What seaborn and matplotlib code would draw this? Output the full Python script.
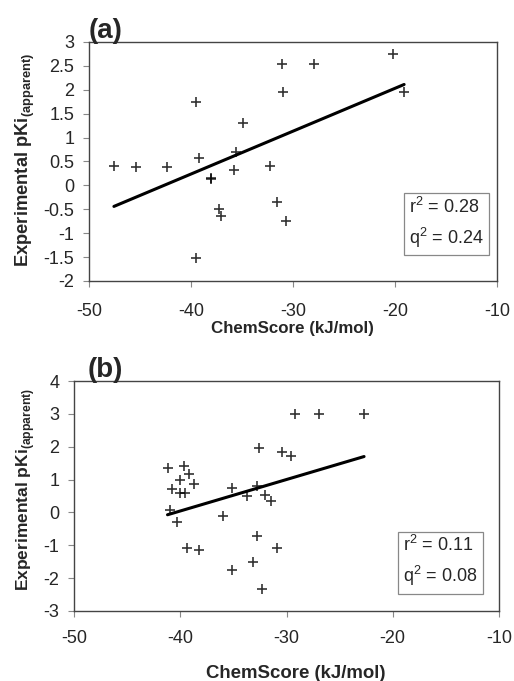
import numpy as np
import pandas as pd
import matplotlib
matplotlib.use("Agg")
import matplotlib.pyplot as plt
import seaborn as sns

sns.set_style("white")
plt.rcParams['font.family'] = ['Liberation Sans', 'DejaVu Sans']
plt.rcParams['mathtext.fontset'] = 'custom'
plt.rcParams['mathtext.rm'] = 'Liberation Sans'
plt.rcParams['mathtext.bf'] = 'Liberation Sans:bold'
plt.rcParams['axes.unicode_minus'] = False

# panel (a) data
chemscore_a = [-47.55, -45.4, -42.3, -39.5, -39.25, -39.5, -38.0, -38.0, -37.25, -37.1,
               -34.9, -35.6, -35.8, -32.25, -31.1, -31.0, -31.6, -30.7, -27.9, -20.2, -19.1]
pki_a = [0.40, 0.38, 0.38, 1.75, 0.57, -1.51, 0.15, 0.13, -0.49, -0.65,
         1.30, 0.70, 0.32, 0.41, 2.53, 1.96, -0.35, -0.75, 2.53, 2.75, 1.96]

# panel (b) data
chemscore_b = [-29.2, -26.9, -22.7, -32.6, -30.4, -29.6, -41.2, -39.65, -39.2, -40.0,
               -38.7, -40.75, -40.0, -39.6, -41.0, -40.3, -35.1, -32.8, -33.7, -32.06,
               -31.5, -36.0, -32.8, -30.9, -39.4, -38.2, -33.2, -35.1, -32.3]
pki_b = [3.0, 3.0, 3.0, 1.95, 1.84, 1.72, 1.35, 1.41, 1.18, 1.0,
         0.88, 0.70, 0.60, 0.60, 0.06, -0.28, 0.73, 0.80, 0.50, 0.54,
         0.34, -0.11, -0.73, -1.08, -1.07, -1.15, -1.50, -1.76, -2.34]

stats_a = "r$^2$ = 0.28\nq$^2$ = 0.24"
stats_b = "r$^2$ = 0.11\nq$^2$ = 0.08"

df_a = pd.DataFrame({"x": chemscore_a, "y": pki_a})
df_b = pd.DataFrame({"x": chemscore_b, "y": pki_b})

fig = plt.figure(figsize=(5.14, 6.81), dpi=100)
ax_a = fig.add_axes([0.173, 0.5874, 0.7938, 0.351])
ax_b = fig.add_axes([0.144, 0.1028, 0.8268, 0.3377])

ylabel = "Experimental pKi$_{\\mathbf{(apparent)}}$"

def draw(ax, df, ylim, yticks, yticklabels, stats, box_xy, xpad,
         xlab_size, xlab_xy, ylab_size, ylab_xy):
    sns.regplot(data=df, x="x", y="y", ax=ax, ci=None, truncate=True,
                marker="+", color="black",
                scatter_kws={"s": 60, "linewidths": 1.2},
                line_kws={"lw": 2.2})
    ax.set_xlim(-50, -10)
    ax.set_ylim(*ylim)
    ax.set_xticks([-50, -40, -30, -20, -10])
    ax.set_yticks(yticks)
    ax.set_yticklabels(yticklabels)
    ax.tick_params(axis="both", direction="out", length=4.5, width=0.8,
                   color="#888888", labelsize=13, bottom=True, left=True)
    ax.tick_params(axis="x", pad=xpad)
    ax.tick_params(axis="y", pad=6)
    for s in ax.spines.values():
        s.set_color("#444444")
        s.set_linewidth(1.0)
    ax.set_xlabel("ChemScore (kJ/mol)", fontsize=xlab_size, fontweight="bold")
    ax.xaxis.set_label_coords(*xlab_xy)
    ax.set_ylabel(ylabel, fontsize=ylab_size, fontweight="bold")
    ax.yaxis.set_label_coords(*ylab_xy)
    ax.text(box_xy[0], box_xy[1], stats, transform=ax.transAxes, fontsize=13,
            ha="left", va="center", linespacing=1.5,
            bbox=dict(boxstyle="square,pad=0.3", facecolor="white", edgecolor="#888888", lw=0.9))

draw(ax_a, df_a, (-2, 3), np.arange(-2, 3.01, 0.5),
     ["-2", "-1.5", "-1", "-0.5", "0", "0.5", "1", "1.5", "2", "2.5", "3"],
     stats_a, (0.785, 0.241), 11, 12.2, (0.5, -0.167), 13.2, (-0.128, 0.506))
draw(ax_b, df_b, (-3, 4), np.arange(-3, 4.01, 1),
     ["-3", "-2", "-1", "0", "1", "2", "3", "4"],
     stats_b, (0.775, 0.215), 9, 13.4, (0.522, -0.235), 12.5, (-0.087, 0.53))

fig.text(89 / 514, 1 - 38 / 681, "(a)", fontsize=20, fontweight="bold", ha="left", va="baseline")
fig.text(88 / 514, 1 - 377 / 681, "(b)", fontsize=20, fontweight="bold", ha="left", va="baseline")

fig.savefig("out.png", dpi=100)
